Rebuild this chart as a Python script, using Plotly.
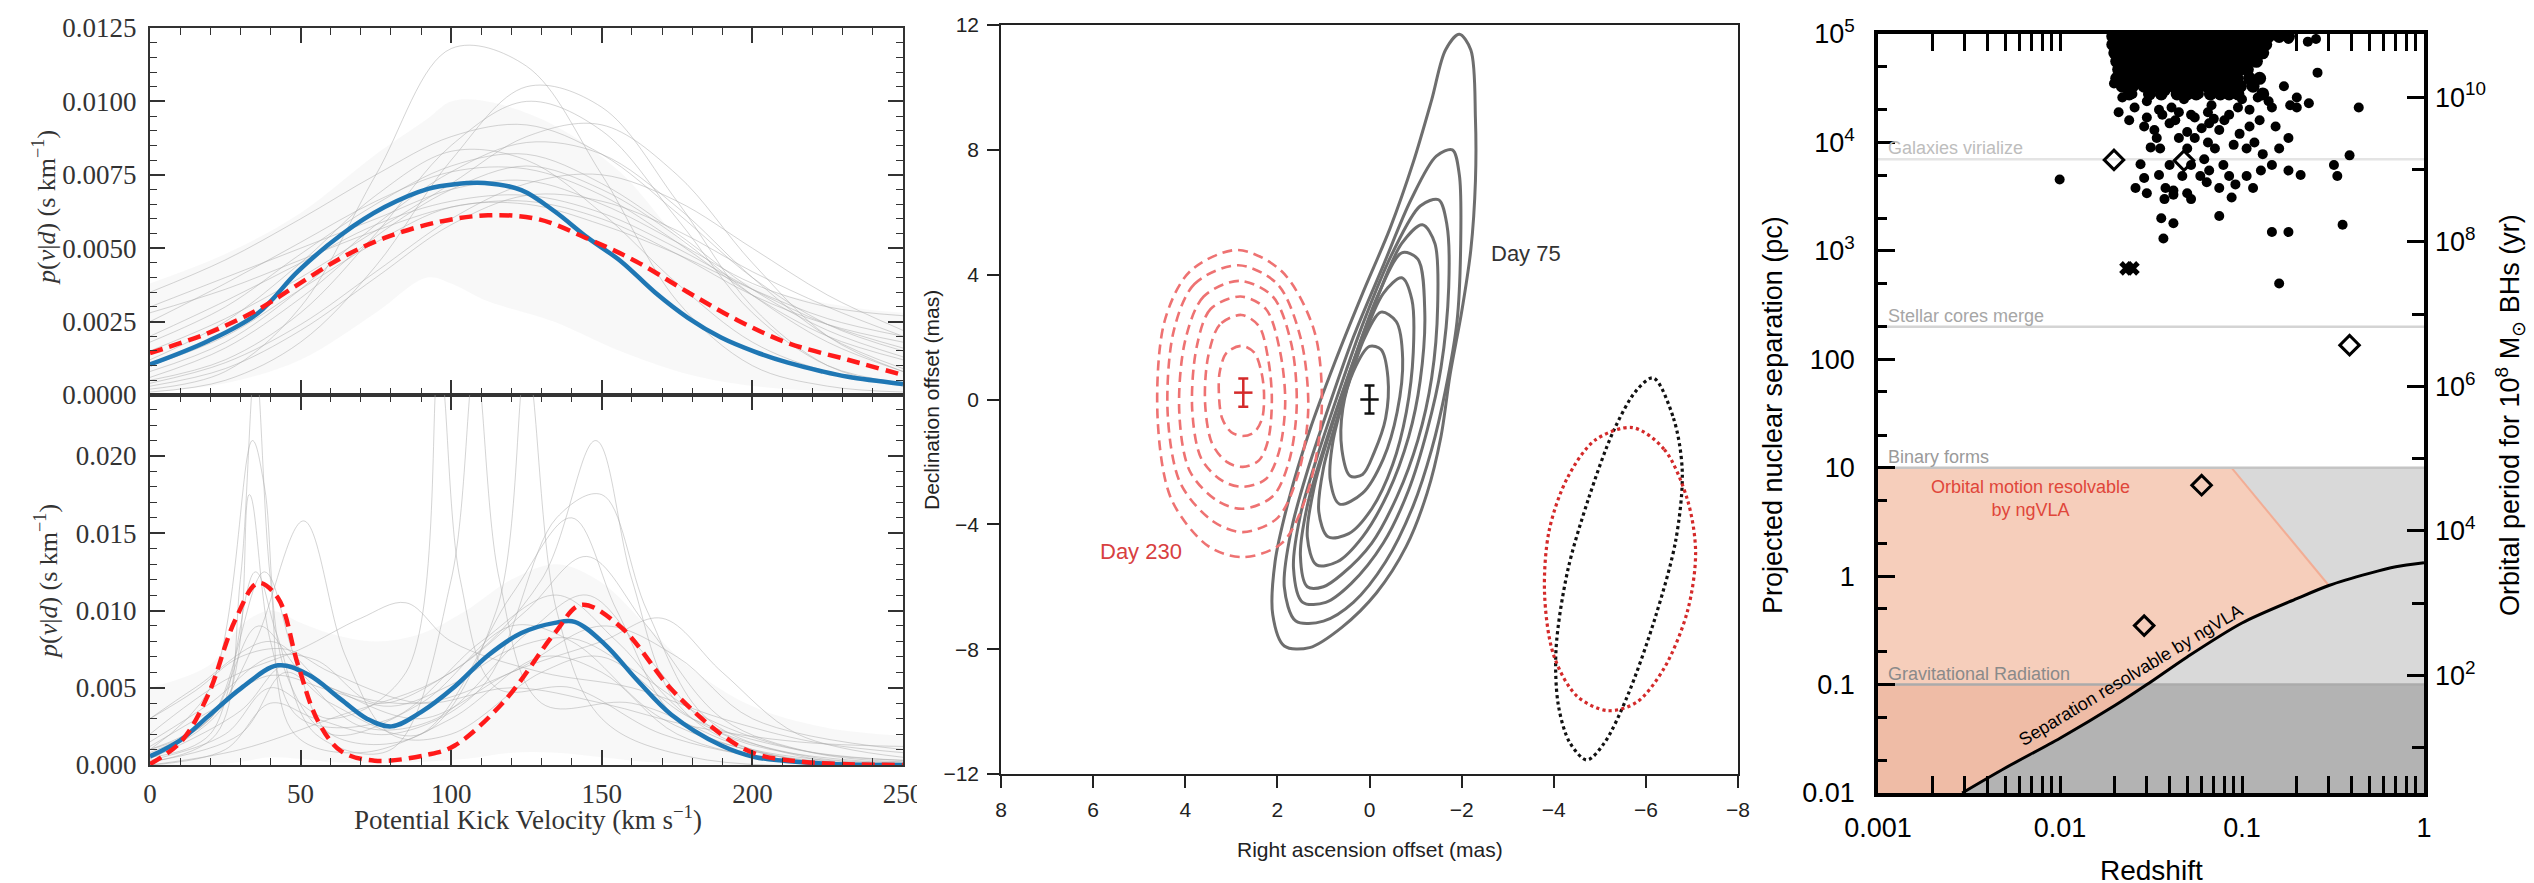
import math
import plotly.graph_objects as go

W, H = 2534, 883
SERIF = "Liberation Serif, Times New Roman, serif"
SANS = "Liberation Sans, Arial, Helvetica, sans-serif"

# ---------------- Left panels: kick velocity posteriors ----------------
top_blue_v = [0, 19.3, 35.9, 49.1, 63.5, 77.9, 92.3, 101.2, 111.1, 123.3, 134.4, 145.4,
              156.4, 167.6, 178.6, 189.6, 200.7, 211.8, 222.9, 231.7, 250]
top_blue_p = [0.00104, 0.00184, 0.00279, 0.00421, 0.00546, 0.00640, 0.00702, 0.00718,
              0.00722, 0.00698, 0.00625, 0.00535, 0.00455, 0.00350, 0.00263, 0.00196,
              0.00148, 0.00110, 0.00081, 0.00062, 0.00037]
top_red_v = [0, 19.3, 35.9, 49.1, 63.5, 77.9, 95.6, 112.2, 128.8, 145.4, 161.4, 178.6,
             195.2, 211.8, 231.7, 250]
top_red_p = [0.00143, 0.00211, 0.00291, 0.00376, 0.00467, 0.00535, 0.00589, 0.00612,
             0.00599, 0.00532, 0.00455, 0.00350, 0.00254, 0.00177, 0.00120, 0.00068]

top_env_v = [0, 25, 50, 75, 92, 100, 112, 134, 156, 179, 201, 232, 250]
top_env_hi = [0.0038, 0.0048, 0.0062, 0.0082, 0.0094, 0.0100, 0.0100, 0.0092, 0.0076,
              0.0050, 0.0037, 0.0030, 0.0028]
top_env_lo = [0.0001, 0.0004, 0.0012, 0.0028, 0.0040, 0.0038, 0.0032, 0.0025, 0.0015,
              0.0007, 0.0003, 0.0001, 0.0001]

top_gray_v = [0, 25, 50, 75, 100, 125, 150, 175, 200, 225, 250]
top_gray_1 = [0.0012, 0.0025, 0.0045, 0.0068, 0.0083, 0.0080, 0.0062, 0.0038, 0.0018, 0.0008, 0.0004]
top_gray_2 = [0.0005, 0.0012, 0.0028, 0.0055, 0.0085, 0.0100, 0.0090, 0.0060, 0.0028, 0.0010, 0.0004]
top_gray_3 = [0.0020, 0.0032, 0.0045, 0.0058, 0.0066, 0.0068, 0.0062, 0.0050, 0.0036, 0.0024, 0.0016]
top_gray_4 = [0.0002, 0.0008, 0.0030, 0.0075, 0.0118, 0.0112, 0.0075, 0.0032, 0.0010, 0.0003, 0.0001]
top_gray_5 = [0.0030, 0.0040, 0.0050, 0.0060, 0.0070, 0.0073, 0.0065, 0.0052, 0.0038, 0.0030, 0.0027]
top_gray_6 = [0.0008, 0.0018, 0.0036, 0.0058, 0.0076, 0.0086, 0.0082, 0.0064, 0.0040, 0.0020, 0.0009]
top_gray_7 = [0.0015, 0.0026, 0.0040, 0.0056, 0.0072, 0.0088, 0.0092, 0.0075, 0.0045, 0.0020, 0.0008]
top_gray_8 = [0.0004, 0.0011, 0.0024, 0.0042, 0.0060, 0.0072, 0.0075, 0.0066, 0.0050, 0.0034, 0.0022]
top_gray_9 = [0.0025, 0.0038, 0.0052, 0.0066, 0.0076, 0.0077, 0.0068, 0.0052, 0.0034, 0.0020, 0.0012]
top_gray_10 = [0.0010, 0.0020, 0.0036, 0.0052, 0.0064, 0.0065, 0.0058, 0.0048, 0.0036, 0.0026, 0.0020]
top_gray_11 = [0.0001, 0.0005, 0.0018, 0.0044, 0.0080, 0.0105, 0.0098, 0.0066, 0.0030, 0.0010, 0.0003]
top_gray_12 = [0.0035, 0.0046, 0.0060, 0.0075, 0.0088, 0.0092, 0.0082, 0.0062, 0.0040, 0.0024, 0.0015]
top_gray_13 = [0.0006, 0.0016, 0.0033, 0.0054, 0.0070, 0.0078, 0.0070, 0.0054, 0.0034, 0.0018, 0.0008]
top_gray_14 = [0.0018, 0.0030, 0.0048, 0.0065, 0.0078, 0.0082, 0.0072, 0.0055, 0.0036, 0.0022, 0.0013]
top_gray_15 = [0.0003, 0.0009, 0.0022, 0.0040, 0.0058, 0.0068, 0.0066, 0.0056, 0.0042, 0.0030, 0.0020]
top_gray_16 = [0.0028, 0.0036, 0.0046, 0.0056, 0.0064, 0.0066, 0.0060, 0.0048, 0.0034, 0.0024, 0.0018]
top_gray_curves = [top_gray_1, top_gray_2, top_gray_3, top_gray_4, top_gray_5, top_gray_6,
                   top_gray_7, top_gray_8, top_gray_9, top_gray_10, top_gray_11, top_gray_12,
                   top_gray_13, top_gray_14, top_gray_15, top_gray_16]

bot_blue_v = [0, 10, 19.3, 30.3, 42.5, 52.5, 63.5, 72, 80.2, 90.1, 101.2, 112.2, 123.3, 134.4,
              141, 151, 162, 173.1, 189.7, 200.7, 222.9, 250]
bot_blue_p = [0.00056, 0.0016, 0.00315, 0.00498, 0.00645, 0.00585, 0.00423, 0.0030, 0.0025,
              0.00344, 0.00508, 0.00709, 0.00854, 0.0092, 0.00927, 0.00781, 0.00544, 0.00326,
              0.00126, 0.00052, 0.0001, 0.0]
bot_red_v = [0, 10.4, 19.3, 28.1, 35.9, 42.5, 49.1, 55.8, 63.5, 74.6, 92.3, 101.2, 117.8,
             134.4, 143.2, 156.5, 173.1, 189.7, 200.7, 217.3, 250]
bot_red_p = [0.00006, 0.00153, 0.00455, 0.0093, 0.01178, 0.0108, 0.0065, 0.00283, 0.00089,
             0.00028, 0.00067, 0.00126, 0.00417, 0.00854, 0.01037, 0.0089, 0.0049, 0.00198,
             0.00075, 0.0002, 0.0]

bot_env_v = [0, 20, 30, 40, 50, 60, 75, 90, 105, 120, 135, 150, 165, 180, 200, 225, 250]
bot_env_hi = [0.0050, 0.0065, 0.0090, 0.0100, 0.0092, 0.0085, 0.0080, 0.0085, 0.0100, 0.0120,
              0.0130, 0.0118, 0.0090, 0.0062, 0.0038, 0.0024, 0.0019]
bot_env_lo = [0.0, 0.0, 0.0002, 0.0005, 0.0004, 0.0002, 0.0001, 0.0002, 0.0004, 0.0008,
              0.0008, 0.0005, 0.0002, 0.0001, 0.0, 0.0, 0.0]

bot_gray = [
    ([0, 22, 30, 35, 40, 48, 70, 100, 130, 150, 175, 210, 250],
     [0.0002, 0.002, 0.012, 0.026, 0.012, 0.002, 0.0008, 0.003, 0.007, 0.006, 0.002, 0.0003, 0.0]),
    ([0, 20, 34, 38, 45, 60, 90, 120, 140, 170, 210, 250],
     [0.001, 0.005, 0.021, 0.018, 0.006, 0.002, 0.004, 0.009, 0.008, 0.003, 0.0005, 0.0]),
    ([0, 25, 33, 40, 50, 80, 110, 135, 155, 180, 220, 250],
     [0.0005, 0.004, 0.0175, 0.008, 0.003, 0.003, 0.008, 0.011, 0.008, 0.003, 0.0005, 0.0002]),
    ([0, 20, 35, 51, 65, 80, 100, 130, 150, 180, 220, 250],
     [0.001, 0.003, 0.008, 0.0158, 0.007, 0.002, 0.002, 0.006, 0.007, 0.003, 0.0008, 0.0003]),
    ([0, 15, 40, 60, 90, 120, 150, 175, 200, 250],
     [0.003, 0.005, 0.008, 0.005, 0.004, 0.006, 0.009, 0.007, 0.003, 0.001]),
    ([0, 30, 45, 60, 90, 115, 125, 135, 150, 180, 250],
     [0.0002, 0.002, 0.006, 0.004, 0.002, 0.010, 0.026, 0.010, 0.003, 0.0005, 0.0]),
    ([0, 30, 60, 100, 130, 148, 160, 175, 200, 250],
     [0.0, 0.001, 0.003, 0.006, 0.012, 0.021, 0.012, 0.004, 0.001, 0.0]),
    ([0, 20, 40, 55, 75, 100, 125, 145, 165, 190, 220, 250],
     [0.0015, 0.004, 0.007, 0.0068, 0.004, 0.006, 0.010, 0.0135, 0.009, 0.003, 0.0008, 0.0002]),
    ([0, 20, 35, 42, 55, 80, 100, 108, 116, 130, 160, 200, 250],
     [0.0005, 0.002, 0.0125, 0.0085, 0.002, 0.001, 0.012, 0.026, 0.012, 0.004, 0.004, 0.001, 0.0]),
    ([0, 25, 50, 70, 85, 100, 130, 160, 190, 220, 250],
     [0.002, 0.0055, 0.0075, 0.0095, 0.0105, 0.008, 0.006, 0.005, 0.003, 0.0015, 0.0008]),
    ([0, 25, 40, 55, 80, 110, 135, 150, 165, 185, 220, 250],
     [0.0, 0.001, 0.004, 0.003, 0.002, 0.005, 0.016, 0.0175, 0.010, 0.003, 0.0004, 0.0]),
    ([0, 20, 38, 48, 60, 90, 120, 140, 155, 175, 210, 250],
     [0.001, 0.003, 0.0125, 0.007, 0.002, 0.002, 0.011, 0.016, 0.010, 0.003, 0.0005, 0.0]),
    ([0, 30, 45, 60, 90, 120, 150, 170, 190, 215, 250],
     [0.0004, 0.0035, 0.0065, 0.005, 0.003, 0.006, 0.008, 0.0095, 0.006, 0.002, 0.0005]),
    ([0, 15, 30, 45, 60, 90, 120, 150, 180, 215, 250],
     [0.003, 0.0048, 0.007, 0.0075, 0.006, 0.004, 0.005, 0.004, 0.0025, 0.0015, 0.0012]),
    ([0, 25, 40, 60, 85, 96, 103, 115, 140, 170, 210, 250],
     [0.0003, 0.002, 0.005, 0.003, 0.006, 0.026, 0.012, 0.005, 0.005, 0.002, 0.0003, 0.0]),
    ([0, 20, 40, 60, 80, 100, 120, 140, 160, 185, 215, 250],
     [0.0012, 0.0035, 0.0058, 0.0048, 0.0038, 0.0052, 0.0075, 0.0082, 0.0062, 0.0030, 0.0010, 0.0003]),
    ([0, 20, 36, 50, 70, 95, 125, 145, 165, 190, 250],
     [0.0008, 0.0030, 0.0090, 0.0060, 0.0025, 0.0030, 0.0085, 0.0110, 0.0070, 0.0020, 0.0001]),
]

# ---------------- Middle panel: VLBI contours ----------------
d75_c1 = [(1.85, -7.9), (2.1, -6.9), (2.05, -5.2), (1.75, -3.2), (1.3, -1.0), (0.75, 1.2),
          (0.15, 3.4), (-0.45, 5.5), (-0.95, 7.6), (-1.35, 9.6), (-1.65, 11.2), (-1.95, 11.7),
          (-2.2, 11.2), (-2.3, 9.0), (-2.3, 7.0), (-2.2, 4.8), (-2.0, 2.8), (-1.75, 0.8),
          (-1.55, -1.2), (-1.25, -3.0), (-0.8, -4.7), (-0.15, -6.2), (0.6, -7.3), (1.3, -7.95)]
d75_c2 = [(1.6, -7.1), (1.85, -6.0), (1.7, -4.2), (1.35, -2.3), (0.9, -0.3), (0.35, 2.0),
          (-0.3, 4.3), (-0.9, 6.4), (-1.45, 7.8), (-1.8, 8.0), (-1.95, 7.2), (-1.98, 5.0),
          (-1.9, 2.5), (-1.65, 0.3), (-1.35, -1.6), (-0.95, -3.4), (-0.35, -5.2), (0.35, -6.5),
          (1.0, -7.1)]
d75_c3 = [(1.45, -6.5), (1.65, -5.4), (1.5, -3.7), (1.15, -1.9), (0.7, 0.1), (0.15, 2.4),
          (-0.5, 4.7), (-1.1, 6.2), (-1.5, 6.4), (-1.68, 5.6), (-1.72, 3.6), (-1.55, 1.0),
          (-1.25, -1.0), (-0.85, -2.9), (-0.3, -4.6), (0.4, -5.9), (0.95, -6.5)]
d75_c4 = [(1.35, -6.0), (1.5, -5.0), (1.35, -3.4), (1.0, -1.6), (0.5, 0.6), (-0.1, 3.0),
          (-0.7, 5.0), (-1.15, 5.6), (-1.42, 5.0), (-1.48, 3.0), (-1.35, 0.7), (-1.05, -1.3),
          (-0.6, -3.1), (-0.05, -4.6), (0.6, -5.6), (1.0, -6.0)]
d75_c5 = [(1.15, -5.3), (1.35, -4.4), (1.2, -2.8), (0.85, -1.0), (0.4, 1.0), (-0.2, 3.4),
          (-0.7, 4.7), (-1.05, 4.5), (-1.2, 2.8), (-1.1, 0.6), (-0.85, -1.2), (-0.4, -3.0),
          (0.15, -4.4), (0.7, -5.2)]
d75_c6 = [(0.9, -4.4), (1.1, -3.6), (1.0, -2.2), (0.7, -0.6), (0.25, 1.5), (-0.3, 3.4),
          (-0.7, 3.9), (-0.92, 3.2), (-0.95, 1.5), (-0.8, -0.4), (-0.5, -2.1), (-0.05, -3.5),
          (0.45, -4.3)]
d75_c7 = [(0.65, -3.35), (0.85, -2.6), (0.8, -1.4), (0.5, 0.3), (0.1, 2.0), (-0.25, 2.8),
          (-0.58, 2.5), (-0.72, 1.3), (-0.6, -0.4), (-0.3, -1.9), (0.15, -3.0)]
d75_c8 = [(0.42, -2.45), (0.6, -1.6), (0.58, -0.3), (0.35, 0.9), (0.0, 1.7), (-0.25, 1.6),
          (-0.4, 0.7), (-0.35, -0.6), (-0.1, -1.7), (0.15, -2.4)]
day75_contours = [d75_c1, d75_c2, d75_c3, d75_c4, d75_c5, d75_c6, d75_c7, d75_c8]

d230_c1 = [(2.87, 4.79), (3.9, 4.1), (4.45, 2.5), (4.6, -0.6), (4.3, -3.2), (3.5, -4.7),
           (2.74, -5.05), (1.9, -4.6), (1.35, -3.0), (1.04, -0.4), (1.2, 2.2), (1.9, 4.1)]
d230_c2 = [(2.85, 4.30), (3.8, 3.7), (4.25, 2.2), (4.38, -0.5), (4.1, -2.7), (3.4, -3.9),
           (2.75, -4.25), (2.0, -3.8), (1.55, -2.4), (1.33, -0.3), (1.5, 2.0), (2.0, 3.7)]
d230_c3 = [(2.82, 3.80), (3.6, 3.3), (4.0, 1.9), (4.13, -0.4), (3.9, -2.3), (3.3, -3.25),
           (2.75, -3.5), (2.1, -3.1), (1.75, -2.0), (1.58, -0.2), (1.7, 1.8), (2.1, 3.3)]
d230_c4 = [(2.8, 3.3), (3.45, 2.9), (3.75, 1.7), (3.85, -0.3), (3.65, -1.9), (3.2, -2.6),
           (2.75, -2.8), (2.25, -2.55), (1.97, -1.7), (1.83, -0.1), (1.95, 1.6), (2.25, 2.9)]
d230_c5 = [(2.78, 2.71), (3.25, 2.4), (3.5, 1.4), (3.57, -0.1), (3.42, -1.4), (3.1, -2.0),
           (2.75, -2.16), (2.4, -1.95), (2.2, -1.3), (2.12, 0.0), (2.2, 1.3), (2.4, 2.35)]
d230_c6 = [(2.77, 1.72), (3.1, 1.5), (3.25, 0.9), (3.27, 0.2), (3.2, -0.6), (3.0, -1.05),
           (2.75, -1.17), (2.5, -1.05), (2.33, -0.6), (2.29, 0.2), (2.35, 0.9), (2.5, 1.5)]
day230_contours = [d230_c1, d230_c2, d230_c3, d230_c4, d230_c5, d230_c6]

ell_black = [(-6.16, 0.69), (-6.6, -0.6), (-6.79, -2.3), (-6.65, -4.5), (-6.2, -7.0),
             (-5.6, -9.5), (-5.1, -11.0), (-4.72, -11.55), (-4.35, -11.0), (-4.1, -9.8),
             (-4.05, -8.0), (-4.3, -5.5), (-4.75, -3.2), (-5.3, -1.0), (-5.8, 0.3)]
ell_red = [(-5.71, -0.9), (-6.4, -1.6), (-6.9, -3.2), (-7.08, -4.9), (-6.9, -6.8),
           (-6.4, -8.6), (-5.8, -9.7), (-5.17, -9.97), (-4.5, -9.5), (-4.0, -8.2),
           (-3.8, -6.2), (-3.9, -4.2), (-4.3, -2.5), (-4.9, -1.3)]

peak75 = (0.0, 0.0)
peak230 = (2.74, 0.22)
peak_err_ra = 0.2
peak_err_dec = 0.45

ra_ticks = [8, 6, 4, 2, 0, -2, -4, -6, -8]
dec_ticks = [12, 8, 4, 0, -4, -8, -12]

# ---------------- Right panel: separation vs redshift ----------------
curve_z = [0.0029, 0.005, 0.01, 0.02, 0.03, 0.05, 0.1, 0.2, 0.3, 0.5, 0.7, 1.0]
curve_sep = [0.010, 0.017, 0.032, 0.064, 0.1, 0.18, 0.37, 0.62, 0.82, 1.06, 1.22, 1.33]
diag_z = [0.0875, 0.3]
diag_sep = [10, 0.82]

levels_sep = [7000, 200, 10, 0.1]
levels_text = ["Galaxies virialize", "Stellar cores merge", "Binary forms", "Gravitational Radiation"]
levels_line = ["#e4e4e4", "#d4d4d4", "#c4c4c4", "#ababab"]
levels_font = ["#bdbdbd", "#a6a6a6", "#9a9a9a", "#8a8a8a"]

core_sep = [95000, 80000, 67000, 56000, 47000, 39000, 33000, 28000]
core_z = [
    [0.0195, 0.021, 0.023, 0.0255, 0.028, 0.031, 0.034, 0.038, 0.042, 0.046, 0.051, 0.056,
     0.062, 0.068, 0.075, 0.083, 0.092, 0.10, 0.11, 0.12, 0.13, 0.14, 0.16, 0.18],
    [0.0195, 0.0215, 0.024, 0.027, 0.030, 0.033, 0.037, 0.041, 0.045, 0.050, 0.055, 0.061,
     0.067, 0.074, 0.082, 0.090, 0.10, 0.11, 0.12, 0.135],
    [0.020, 0.022, 0.025, 0.028, 0.031, 0.035, 0.039, 0.043, 0.048, 0.053, 0.058, 0.064,
     0.071, 0.078, 0.086, 0.095, 0.105, 0.118, 0.13],
    [0.0205, 0.023, 0.026, 0.029, 0.032, 0.036, 0.040, 0.044, 0.049, 0.054, 0.060, 0.066,
     0.073, 0.080, 0.088, 0.097, 0.108, 0.12],
    [0.021, 0.024, 0.027, 0.031, 0.035, 0.039, 0.043, 0.048, 0.053, 0.059, 0.065, 0.072,
     0.079, 0.087, 0.096, 0.107],
    [0.0205, 0.023, 0.026, 0.029, 0.032, 0.036, 0.041, 0.046, 0.051, 0.057, 0.063, 0.070,
     0.077, 0.085, 0.094, 0.11, 0.125],
    [0.022, 0.025, 0.029, 0.033, 0.037, 0.042, 0.047, 0.052, 0.058, 0.064, 0.071, 0.079,
     0.088, 0.098, 0.115],
    [0.024, 0.031, 0.036, 0.044, 0.050, 0.056, 0.067, 0.076, 0.085, 0.095, 0.13],
]
dots_z = [0.0198, 0.022, 0.021, 0.024, 0.0257, 0.029, 0.033, 0.0315, 0.0355, 0.0365, 0.041,
          0.035, 0.038, 0.042, 0.030, 0.026, 0.0277, 0.029, 0.0375, 0.042, 0.050, 0.0525,
          0.036, 0.042, 0.037,
          0.045, 0.050, 0.055, 0.062, 0.066, 0.071, 0.079, 0.085, 0.075, 0.064, 0.059, 0.0525,
          0.047, 0.040, 0.043, 0.0525, 0.066, 0.080, 0.097, 0.106, 0.117, 0.13, 0.127, 0.146,
          0.16, 0.153, 0.18, 0.146, 0.122, 0.17, 0.20, 0.184, 0.233, 0.26, 0.20,
          0.0877, 0.075, 0.092, 0.106, 0.115,
          0.438, 0.39, 0.32, 0.334, 0.357, 0.146, 0.18, 0.16, 0.18, 0.21, 0.255, 0.23, 0.18,
          0.00996,
          0.025, 0.030, 0.038, 0.048, 0.058, 0.068, 0.090, 0.100, 0.110, 0.075, 0.060, 0.034,
          0.035, 0.045, 0.055, 0.065, 0.085, 0.095, 0.125, 0.14, 0.030, 0.040, 0.070, 0.110,
          0.050, 0.090, 0.065]
dots_sep = [35000, 26000, 19000, 16000, 21000, 14000, 13000, 9000, 8800, 18000, 21000,
            5000, 3800, 3600, 3400, 3800, 6300, 4700, 3000, 3300, 3400, 3000,
            2000, 1800, 1300,
            11000, 8800, 11000, 7000, 5500, 8800, 6200, 4900, 3800, 4300, 4900, 6200,
            4900, 6200, 16000, 18000, 15000, 16000, 12000, 8800, 10000, 7800, 5500, 6200,
            8800, 14000, 11000, 21000, 26000, 33000, 21000, 22000, 23000, 44000, 26000,
            3100, 2100, 4100, 4900, 3800,
            21000, 7600, 6200, 4900, 1740, 1490, 1490, 500, 5500, 5000, 90000, 85000, 90000,
            4550,
            28000, 24000, 30000, 25000, 28000, 22000, 30000, 25000, 20000, 13000, 13500, 11000,
            20000, 19000, 17000, 19000, 18000, 21000, 16000, 24000, 17000, 15000, 16500, 14000,
            12500, 9500, 10000]
diam_z = [0.0198, 0.048, 0.39, 0.06, 0.029]
diam_sep = [6900, 6800, 135, 6.9, 0.35]
cross_z = [0.0232, 0.025]
cross_sep = [690, 690]

sep_tickvals = [0.01, 0.1, 1, 10, 100, 1000, 10000, 100000]
sep_ticktext = ["0.01", "0.1", "1", "10", "100", "10<sup>3</sup>", "10<sup>4</sup>", "10<sup>5</sup>"]
z_tickvals = [0.001, 0.01, 0.1, 1]
z_ticktext = ["0.001", "0.01", "0.1", "1"]
period_major = [2, 4, 6, 8, 10]
period_minor = [1, 3, 5, 7, 9]
period_log_at_1pc = 3.375   # log10(P/yr) at 1 pc

# ---------------- helpers ----------------
def xdom(a, b):
    return [a / W, b / W]


def ydom(top, bottom):
    return [1 - bottom / H, 1 - top / H]


def pxx(x):
    return x / W


def pxy(y):
    return 1 - y / H


fig = go.Figure()
NOHOVER = dict(hoverinfo="skip", showlegend=False)
GRAYLINE = dict(color="rgba(170,170,170,0.5)", width=1, shape="spline")

# ----- top-left -----
fig.add_trace(go.Scatter(x=top_env_v, y=top_env_lo, mode="lines", line=dict(width=0, shape="spline"),
                         xaxis="x", yaxis="y", **NOHOVER))
fig.add_trace(go.Scatter(x=top_env_v, y=top_env_hi, mode="lines", line=dict(width=0, shape="spline"),
                         fill="tonexty", fillcolor="rgba(200,200,200,0.13)", xaxis="x", yaxis="y", **NOHOVER))
for c in top_gray_curves:
    fig.add_trace(go.Scatter(x=top_gray_v, y=c, mode="lines", line=GRAYLINE,
                             xaxis="x", yaxis="y", **NOHOVER))
fig.add_trace(go.Scatter(x=top_blue_v, y=top_blue_p, mode="lines",
                         line=dict(color="#1f77b4", width=4.5, shape="spline"), xaxis="x", yaxis="y", **NOHOVER))
fig.add_trace(go.Scatter(x=top_red_v, y=top_red_p, mode="lines",
                         line=dict(color="#ff1a1a", width=4.5, dash="13px,7px", shape="spline"),
                         xaxis="x", yaxis="y", **NOHOVER))

# ----- bottom-left -----
fig.add_trace(go.Scatter(x=bot_env_v, y=bot_env_lo, mode="lines", line=dict(width=0, shape="spline"),
                         xaxis="x2", yaxis="y2", **NOHOVER))
fig.add_trace(go.Scatter(x=bot_env_v, y=bot_env_hi, mode="lines", line=dict(width=0, shape="spline"),
                         fill="tonexty", fillcolor="rgba(200,200,200,0.13)", xaxis="x2", yaxis="y2", **NOHOVER))
for gx, gy in bot_gray:
    fig.add_trace(go.Scatter(x=gx, y=gy, mode="lines", line=GRAYLINE,
                             xaxis="x2", yaxis="y2", **NOHOVER))
fig.add_trace(go.Scatter(x=bot_blue_v, y=bot_blue_p, mode="lines",
                         line=dict(color="#1f77b4", width=4.5, shape="spline"), xaxis="x2", yaxis="y2", **NOHOVER))
fig.add_trace(go.Scatter(x=bot_red_v, y=bot_red_p, mode="lines",
                         line=dict(color="#ff1a1a", width=4.5, dash="13px,7px", shape="spline"),
                         xaxis="x2", yaxis="y2", **NOHOVER))

# ----- middle -----
for c in day75_contours:
    pts = c + [c[0]]
    fig.add_trace(go.Scatter(x=[p[0] for p in pts], y=[p[1] for p in pts], mode="lines",
                             line=dict(color="#6e6e6e", width=3, shape="spline", smoothing=0.9),
                             xaxis="x3", yaxis="y3", **NOHOVER))
for c in day230_contours:
    pts = c + [c[0]]
    fig.add_trace(go.Scatter(x=[p[0] for p in pts], y=[p[1] for p in pts], mode="lines",
                             line=dict(color="#ee7272", width=2.6, dash="10px,6px", shape="spline",
                                       smoothing=0.9),
                             xaxis="x3", yaxis="y3", **NOHOVER))
for c, col in ((ell_black, "#111111"), (ell_red, "#d42a2a")):
    pts = c + [c[0]]
    fig.add_trace(go.Scatter(x=[p[0] for p in pts], y=[p[1] for p in pts], mode="lines",
                             line=dict(color=col, width=3.2, dash="dot", shape="spline", smoothing=0.9),
                             xaxis="x3", yaxis="y3", **NOHOVER))
for pk, col in ((peak75, "#111111"), (peak230, "#d42a2a")):
    fig.add_trace(go.Scatter(x=[pk[0]], y=[pk[1]], mode="markers",
                             marker=dict(size=1, color=col),
                             error_x=dict(type="constant", value=peak_err_ra, color=col, thickness=2.5, width=0),
                             error_y=dict(type="constant", value=peak_err_dec, color=col, thickness=2.5, width=5),
                             xaxis="x3", yaxis="y3", **NOHOVER))

# ----- right -----
fig.add_trace(go.Scatter(x=[0.001, 1, 1, 0.001, 0.001], y=[0.01, 0.01, 10, 10, 0.01], mode="lines",
                         fill="toself", fillcolor="#d9d9d9", line=dict(width=0),
                         xaxis="x4", yaxis="y4", **NOHOVER))
fig.add_trace(go.Scatter(x=[0.001, 1, 1, 0.001, 0.001], y=[0.01, 0.01, 0.1, 0.1, 0.01], mode="lines",
                         fill="toself", fillcolor="#b3b3b3", line=dict(width=0),
                         xaxis="x4", yaxis="y4", **NOHOVER))
up_pts = [(z, s) for z, s in zip(curve_z, curve_sep) if 0.1 <= s <= diag_sep[1]]
up_x = [0.001, diag_z[0], diag_z[1]] + [p[0] for p in reversed(up_pts)] + [0.001, 0.001]
up_y = [10, diag_sep[0], diag_sep[1]] + [p[1] for p in reversed(up_pts)] + [0.1, 10]
fig.add_trace(go.Scatter(x=up_x, y=up_y, mode="lines", fill="toself", fillcolor="#f6cebb",
                         line=dict(width=0), xaxis="x4", yaxis="y4", **NOHOVER))
lo_pts = [(z, s) for z, s in zip(curve_z, curve_sep) if s <= 0.1]
lo_x = [0.001] + [p[0] for p in reversed(lo_pts)] + [0.001, 0.001]
lo_y = [0.1] + [p[1] for p in reversed(lo_pts)] + [0.01, 0.1]
fig.add_trace(go.Scatter(x=lo_x, y=lo_y, mode="lines", fill="toself", fillcolor="#efbca6",
                         line=dict(width=0), xaxis="x4", yaxis="y4", **NOHOVER))
fig.add_trace(go.Scatter(x=diag_z, y=diag_sep, mode="lines", line=dict(color="#f2ad95", width=2),
                         xaxis="x4", yaxis="y4", **NOHOVER))
for s, lc in zip(levels_sep, levels_line):
    fig.add_trace(go.Scatter(x=[0.001, 1], y=[s, s], mode="lines", line=dict(color=lc, width=2.5),
                             xaxis="x4", yaxis="y4", **NOHOVER))
fig.add_trace(go.Scatter(x=curve_z, y=curve_sep, mode="lines",
                         line=dict(color="black", width=3, shape="spline", smoothing=0.8),
                         xaxis="x4", yaxis="y4", **NOHOVER))
cz, cs = [], []
for s, zs in zip(core_sep, core_z):
    for z in zs:
        cz.append(z)
        cs.append(s)
fig.add_trace(go.Scatter(x=cz, y=cs, mode="markers",
                         marker=dict(size=13, color="black", line=dict(width=0)),
                         xaxis="x4", yaxis="y4", **NOHOVER))
fig.add_trace(go.Scatter(x=dots_z, y=dots_sep, mode="markers",
                         marker=dict(size=10, color="black", line=dict(width=0)),
                         xaxis="x4", yaxis="y4", **NOHOVER))
fig.add_trace(go.Scatter(x=diam_z, y=diam_sep, mode="markers",
                         marker=dict(symbol="diamond-open", size=15, color="black", line=dict(width=3)),
                         xaxis="x4", yaxis="y4", **NOHOVER))
fig.add_trace(go.Scatter(x=cross_z, y=cross_sep, mode="markers",
                         marker=dict(symbol="x", size=13, color="black", line=dict(width=0)),
                         xaxis="x4", yaxis="y4", **NOHOVER))
fig.add_trace(go.Scatter(x=[0.01], y=[10 ** 5], mode="markers", marker=dict(opacity=0),
                         xaxis="x4", yaxis="y5", **NOHOVER))

# ---------------- layout ----------------
left_common = dict(showgrid=False, zeroline=False, showline=True, linecolor="#333", linewidth=2,
                   ticks="inside", tickcolor="#333", tickwidth=1.5, ticklen=15, mirror="allticks")
left_font = dict(family=SERIF, size=27, color="#333")
left_minor = dict(ticks="inside", ticklen=7, tickwidth=1.2, tickcolor="#333")

xaxis = dict(left_common, domain=xdom(142, 895), range=[0, 250], anchor="y", showticklabels=False,
             tick0=0, dtick=50, minor=dict(left_minor, dtick=10))
yaxis = dict(left_common, domain=ydom(20, 387), range=[0, 0.0125], anchor="x",
             tick0=0, dtick=0.0025, tickformat=".4f", tickfont=left_font, ticklabelstandoff=6,
             minor=dict(left_minor, dtick=0.0005))
xaxis2 = dict(left_common, domain=xdom(142, 895), range=[0, 250], anchor="y2",
              tick0=0, dtick=50, tickfont=left_font, ticklabelstandoff=4,
              minor=dict(left_minor, dtick=10))
yaxis2 = dict(left_common, domain=ydom(387, 757), range=[0, 0.02395], anchor="x2",
              tick0=0, dtick=0.005, tickformat=".3f", tickfont=left_font, ticklabelstandoff=6,
              minor=dict(left_minor, dtick=0.001))

mid_font = dict(family=SANS, size=21, color="#222")
xaxis3 = dict(domain=xdom(993, 1730), range=[8, -8], anchor="y3", showgrid=False, zeroline=False,
              showline=True, linecolor="#222", linewidth=1.6, mirror=True, ticks="outside",
              ticklen=12, tickwidth=1.6, tickcolor="#222", tickmode="array", tickvals=ra_ticks,
              tickfont=mid_font, ticklabelstandoff=4)
yaxis3 = dict(domain=ydom(17, 766), range=[-12, 12], anchor="x3", showgrid=False, zeroline=False,
              showline=True, linecolor="#222", linewidth=1.6, mirror=True, ticks="outside",
              ticklen=12, tickwidth=1.6, tickcolor="#222", tickmode="array", tickvals=dec_ticks,
              tickfont=mid_font, ticklabelstandoff=4)

right_font = dict(family=SANS, size=27, color="black")
xaxis4 = dict(domain=xdom(1870, 2416), type="log", range=[-3, 0], anchor="y4", showgrid=False,
              zeroline=False, showline=True, linecolor="black", linewidth=3.5, mirror="allticks",
              ticks="inside", ticklen=17, tickwidth=3, tickcolor="black", tickmode="array",
              tickvals=z_tickvals, ticktext=z_ticktext, tickfont=right_font, ticklabelstandoff=8,
              minor=dict(ticks="inside", dtick="D1", ticklen=9, tickwidth=2.5, tickcolor="black"))
yaxis4 = dict(domain=ydom(26, 785), type="log", range=[-2, 5], anchor="x4", showgrid=False,
              zeroline=False, showline=True, linecolor="black", linewidth=3.5, mirror=True,
              ticks="inside", ticklen=17, tickwidth=3, tickcolor="black", tickmode="array",
              tickvals=sep_tickvals, ticktext=sep_ticktext, tickfont=right_font, ticklabelstandoff=14,
              minor=dict(ticks="inside", dtick="D2", ticklen=9, tickwidth=2.5, tickcolor="black"))
yaxis5 = dict(overlaying="y4", side="right", anchor="x4", type="log",
              range=[period_log_at_1pc - 1.5 * 2, period_log_at_1pc + 1.5 * 5],
              showgrid=False, zeroline=False, showline=False, ticks="inside", ticklen=17,
              tickwidth=3, tickcolor="black", tickmode="array",
              tickvals=[10 ** e for e in period_major],
              ticktext=["10<sup>%d</sup>" % e for e in period_major],
              tickfont=right_font, ticklabelstandoff=10,
              minor=dict(ticks="inside", tickmode="array", tickvals=[10 ** e for e in period_minor],
                         ticklen=12, tickwidth=3, tickcolor="black"))

C = dict(xanchor="center", yanchor="middle", showarrow=False)
ann = []
ann.append(dict(C, x=pxx(36), y=pxy(200), xref="paper", yref="paper", textangle=-90,
                text="<i>p</i>(<i>v</i>|<i>d</i>) (s km<sup>−1</sup>)",
                font=dict(family=SERIF, size=26, color="#333")))
ann.append(dict(C, x=pxx(38), y=pxy(574), xref="paper", yref="paper", textangle=-90,
                text="<i>p</i>(<i>v</i>|<i>d</i>) (s km<sup>−1</sup>)",
                font=dict(family=SERIF, size=26, color="#333")))
ann.append(dict(C, x=pxx(520), y=pxy(810), xref="paper", yref="paper",
                text="Potential Kick Velocity (km s<sup>−1</sup>)",
                font=dict(family=SERIF, size=27, color="#333")))
ann.append(dict(C, x=pxx(924), y=pxy(392), xref="paper", yref="paper", textangle=-90,
                text="Declination offset (mas)", font=dict(family=SANS, size=21, color="#222")))
ann.append(dict(C, x=pxx(1362), y=pxy(841), xref="paper", yref="paper",
                text="Right ascension offset (mas)", font=dict(family=SANS, size=21, color="#222")))
ann.append(dict(C, x=-3.4, y=4.69, xref="x3", yref="y3", text="Day 75",
                font=dict(family=SANS, size=22, color="#333")))
ann.append(dict(C, x=4.95, y=-4.86, xref="x3", yref="y3", text="Day 230",
                font=dict(family=SANS, size=22, color="#d8403f")))
ann.append(dict(C, x=pxx(1765), y=pxy(407), xref="paper", yref="paper", textangle=-90,
                text="Projected nuclear separation (pc)", font=dict(family=SANS, size=27, color="black")))
ann.append(dict(C, x=pxx(2502), y=pxy(407), xref="paper", yref="paper", textangle=-90,
                text="Orbital period for 10<sup>8</sup> M<sub>⊙</sub> BHs (yr)",
                font=dict(family=SANS, size=27, color="black")))
ann.append(dict(C, x=pxx(2143), y=pxy(862), xref="paper", yref="paper",
                text="Redshift", font=dict(family=SANS, size=28, color="black")))
for s, t, fc in zip(levels_sep, levels_text, levels_font):
    ann.append(dict(x=math.log10(0.00112), y=math.log10(s), xref="x4", yref="y4", showarrow=False,
                    xanchor="left", yanchor="bottom", text=t, borderpad=0,
                    font=dict(family=SANS, size=18, color=fc)))
ann.append(dict(C, x=math.log10(0.0069), y=math.log10(5.2), xref="x4", yref="y4",
                text="Orbital motion resolvable<br>by ngVLA", align="center",
                font=dict(family=SANS, size=18, color="#e0463a")))
ann.append(dict(C, x=math.log10(0.0245), y=math.log10(0.123), xref="x4", yref="y4",
                text="Separation resolvable by ngVLA", textangle=-31,
                font=dict(family=SANS, size=18, color="black")))

shapes = [
    dict(type="rect", xref="paper", yref="paper", x0=pxx(909), x1=pxx(930), y0=pxy(800), y1=pxy(765),
         fillcolor="white", line=dict(width=0), layer="above"),
    dict(type="circle", xref="paper", yref="paper", x0=pxx(189), x1=pxx(789), y0=pxy(979), y1=pxy(877),
         fillcolor="#c4483c", line=dict(width=0), layer="above"),
    dict(type="rect", xref="paper", yref="paper", x0=pxx(2527), x1=pxx(2534), y0=pxy(883), y1=pxy(878),
         fillcolor="#d0463a", line=dict(width=0), layer="above"),
]

fig.update_layout(
    width=W, height=H, margin=dict(l=0, r=0, t=0, b=0, autoexpand=False),
    paper_bgcolor="white", plot_bgcolor="white", showlegend=False,
    xaxis=xaxis, yaxis=yaxis, xaxis2=xaxis2, yaxis2=yaxis2,
    xaxis3=xaxis3, yaxis3=yaxis3, xaxis4=xaxis4, yaxis4=yaxis4, yaxis5=yaxis5,
    annotations=ann, shapes=shapes,
)

fig.write_html("out.html")
